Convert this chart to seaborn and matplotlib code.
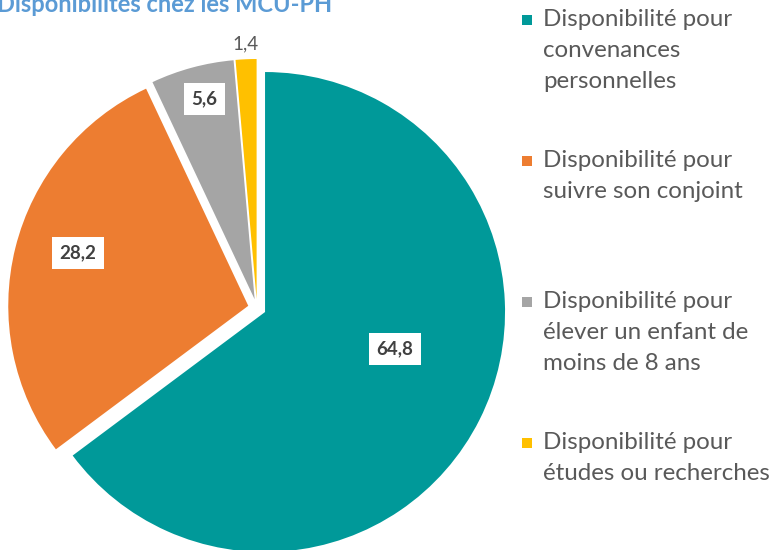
import matplotlib
matplotlib.use("Agg")
import matplotlib.pyplot as plt
import numpy as np
import seaborn as sns

# data
categories = [
    "Disponibilité pour\nconvenances\npersonnelles",
    "Disponibilité pour\nsuivre son conjoint",
    "Disponibilité pour\nélever un enfant de\nmoins de 8 ans",
    "Disponibilité pour\nétudes ou recherches",
]
values = [64.8, 28.2, 5.6, 1.4]
value_labels = ["64,8", "28,2", "5,6", "1,4"]
colors = ["#009999", "#ED7D31", "#A5A5A5", "#FFC000"]
title = "Disponibilités chez les MCU-PH"

sns.set_theme(style="white")
plt.rcParams["font.family"] = ["Lato", "DejaVu Sans"]

W, H = 775, 550
fig = plt.figure(figsize=(W / 100, H / 100), dpi=100)

# pie centre and radius in pixels
cx, cy, R = 257, 308, 240
ax = fig.add_axes([0, 0, 1, 1])

wedges, _ = ax.pie(values, colors=colors, startangle=90, counterclock=False,
                   explode=[0.0375] * 4, radius=1.0,
                   wedgeprops=dict(linewidth=0))
ax.set_aspect("auto")
ax.set_xlim(-cx / R, (W - cx) / R)
ax.set_ylim(-(H - cy) / R, cy / R)
ax.axis("off")

# value labels: distance from centre and angle shift per slice
label_dist = [0.6, 0.78, 0.9, 1.1]
angle_shift = [10, -3, -1, 0]
for i, w in enumerate(wedges):
    mid = np.deg2rad((w.theta1 + w.theta2) / 2 + angle_shift[i])
    x, y = label_dist[i] * np.cos(mid), label_dist[i] * np.sin(mid)
    if i < 3:
        ax.text(x, y, value_labels[i], ha="center", va="center", fontsize=13.5,
                fontweight="bold", color="#404040",
                bbox=dict(boxstyle="square,pad=0.4", fc="white", ec="none"))
    else:
        ax.text(x, y, value_labels[i], ha="center", va="center", fontsize=13.5,
                color="#595959")

# title (cut at the top as in the source)
fig.text(-3 / W, 1 - 12 / H, title, ha="left", va="baseline", fontsize=17,
         fontweight="bold", color="#5B9BD5")

# legend drawn by hand to keep even spacing between entries
for i, (lab, col) in enumerate(zip(categories, colors)):
    ytop = 20 + 141 * i
    fig.patches.append(plt.Rectangle((522 / W, 1 - (ytop + 5) / H), 10 / W, 10 / H,
                                     transform=fig.transFigure, fc=col, ec="none"))
    fig.text(543 / W, 1 - (ytop - 11) / H, lab, ha="left", va="top", fontsize=17.4,
             color="#595959", linespacing=1.58)

fig.savefig("out.png", dpi=100)
